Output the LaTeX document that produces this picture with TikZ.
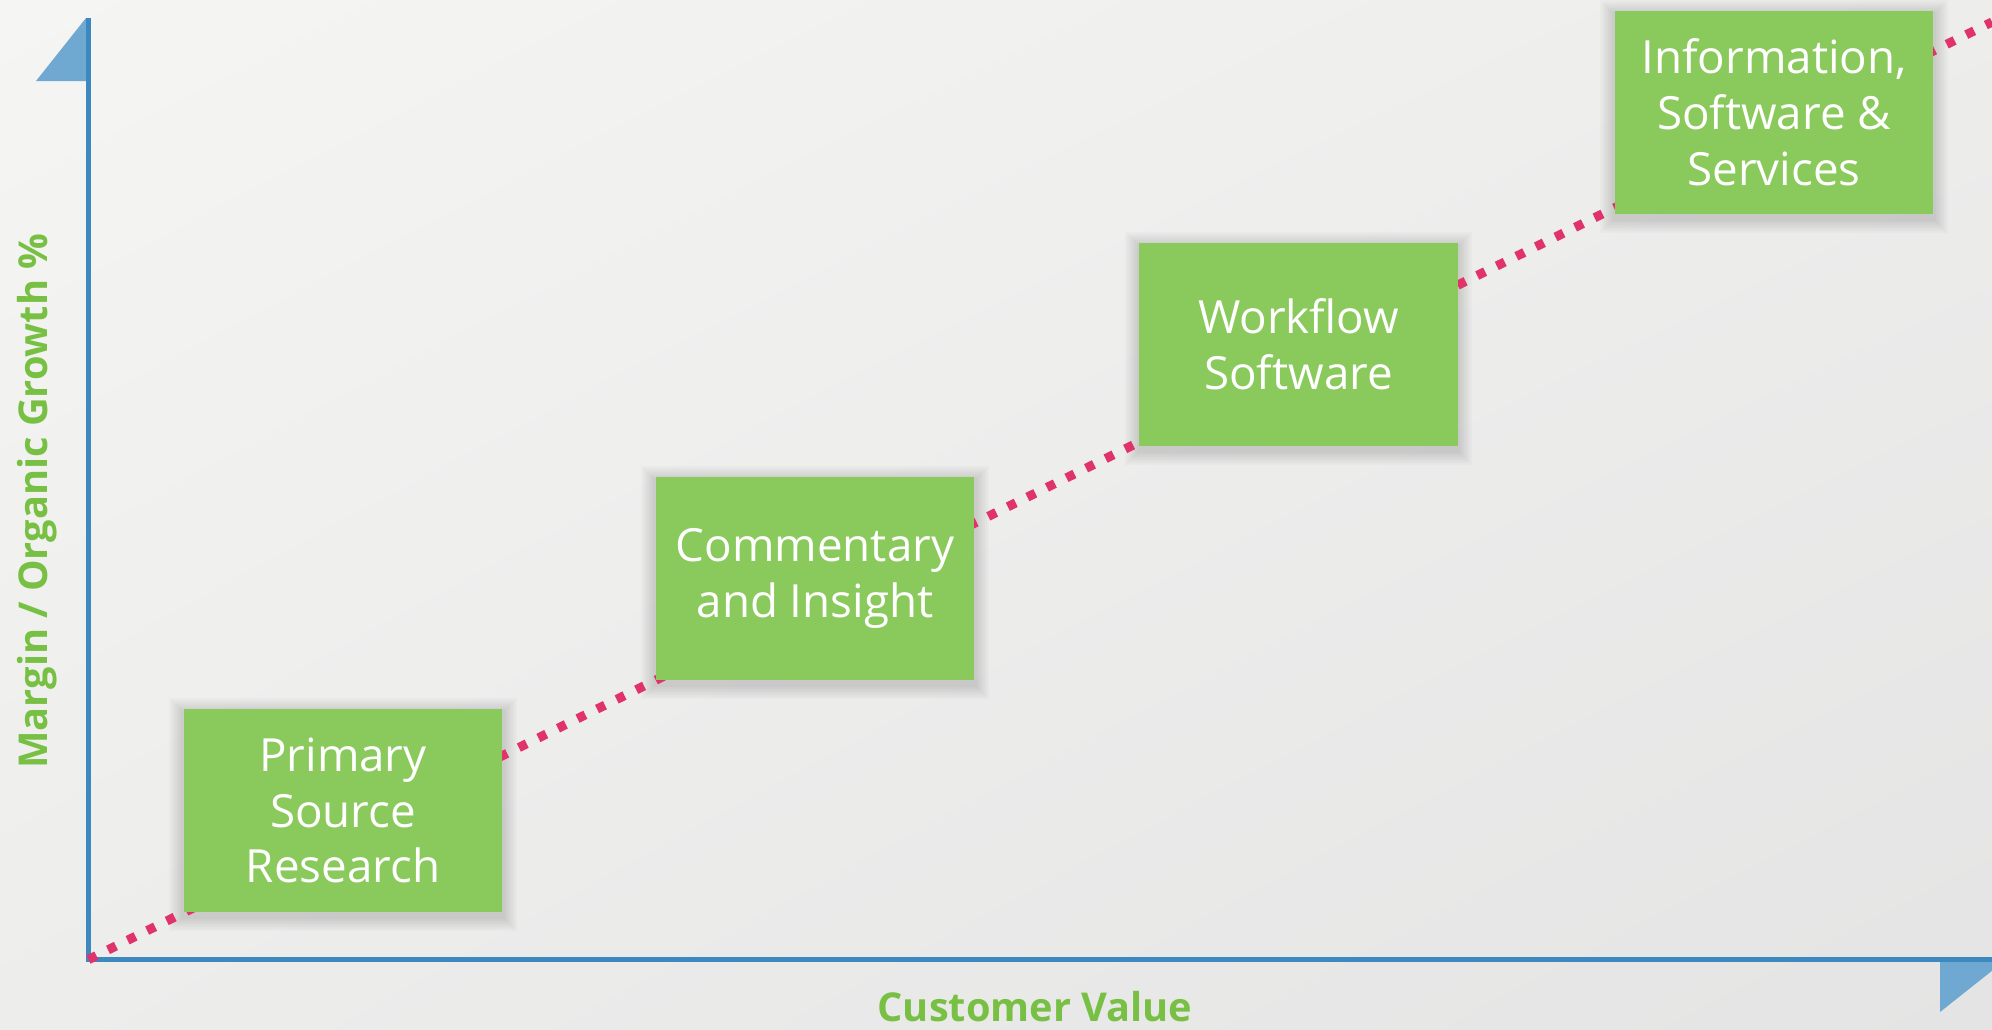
\documentclass[tikz,border=0pt]{standalone}
\usepackage{fontspec}
\setmainfont{Open Sans}
\usepackage{tikz}
\usetikzlibrary{positioning,calc,shadings,backgrounds}

\definecolor{bglight}{HTML}{F5F5F4}
\definecolor{bgmid}{HTML}{EDEDEC}
\definecolor{bgdark}{HTML}{E4E4E4}
\definecolor{axisblue}{HTML}{3C88BF}
\definecolor{tipblue}{HTML}{6FA8D0}
\definecolor{boxgreen}{HTML}{8AC95B}
\definecolor{labelgreen}{HTML}{78C043}
\definecolor{trendpink}{HTML}{E0336C}

\tikzset{
  stage/.style={fill=boxgreen, text=white, minimum width=3.18cm, minimum height=2.03cm,
    inner sep=0pt, align=center, font=\fontsize{13}{15.9}\selectfont},
  softshadow/.style={fill=black, opacity=0.02},
  axislabel/.style={text=labelgreen, font=\fontsize{11.3}{13.5}\selectfont\bfseries},
  axisline/.style={draw=axisblue, line width=1.4pt},
  tip/.style={fill=tipblue},
  trend/.style={draw=trendpink, line width=2.6pt, dash pattern=on 2.5pt off 3.7pt},
}

\begin{document}
\begin{tikzpicture}[x=0.01cm,y=-0.01cm]
        \useasboundingbox (0,0) rectangle (1992,1029);
        \clip (0,0) rectangle (1992,1029);
        \begin{scope}[on background layer]
            \shade[upper left=bglight, upper right=bgmid, lower left=bgmid, lower right=bgdark] (0,0) rectangle (1992,1029);
        \end{scope}

        % axes
        \coordinate (origin) at (88.5,959.5);
        \coordinate (ytop) at (88.5,18);
        \coordinate (xend) at (2003,959.5);
        \coordinate (trendend) at (1992,22);
        \fill[tip] (86,18) -- (86,81) -- (36,81) -- cycle;
        \fill[tip] (1940,962) -- (1940,1012) -- (2003,962) -- cycle;
        \draw[axisline] (ytop) -- (origin) -- (xend);

        \draw[trend] (origin) -- (trendend);

        % stages
        \node[stage] (primary) at (343,810.5) {Primary\\Source\\Research};
        \node[stage] (commentary) at (815,578.5) {Commentary\\and Insight};
        \node[stage] (workflow) at (1298.5,344.5) {Workflow\\Software};
        \node[stage] (services) at (1774,112.5) {Information,\\Software \&\\Services};

        % soft shadows under the stages
        \begin{scope}[on background layer]
            \foreach \n in {primary,commentary,workflow,services}
                \foreach \d in {2,4,...,14}
                    \fill[softshadow] ([shift={(-\d,-\d+4)}]\n.north west) rectangle ([shift={(\d,\d+4)}]\n.south east);
        \end{scope}

        \node[axislabel, rotate=90] (ylabel) at (37,501) {Margin / Organic Growth \%};
        \node[axislabel] (xlabel) at (1035,1007) {Customer Value};
    \end{tikzpicture}
\end{document}
